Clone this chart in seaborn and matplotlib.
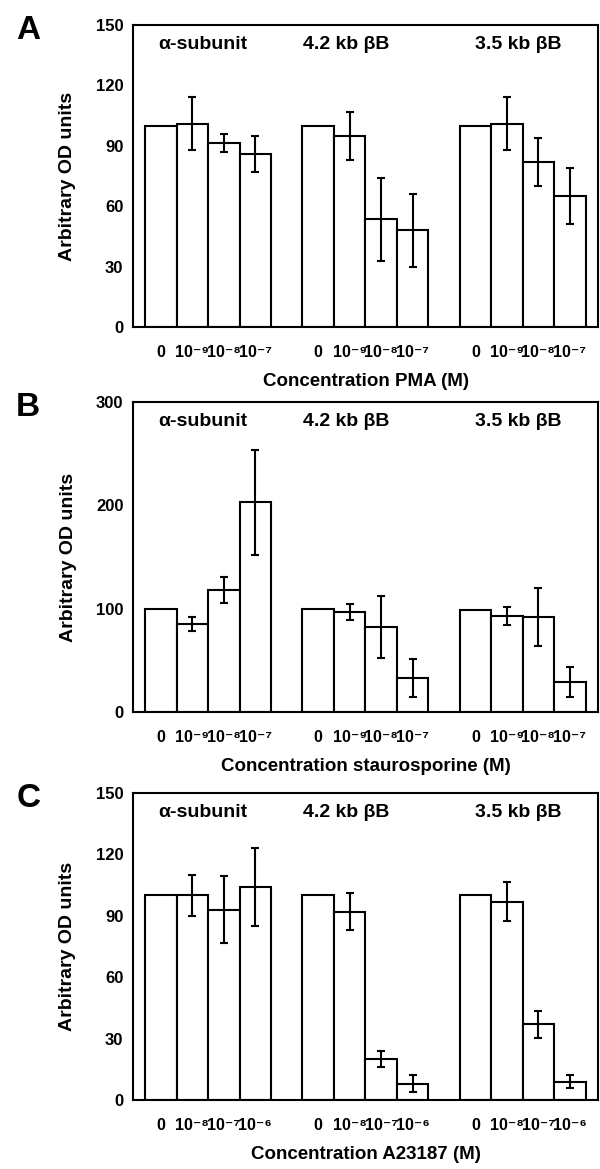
import numpy as np
import pandas as pd
import matplotlib
matplotlib.use("Agg")
import matplotlib.pyplot as plt
import seaborn as sns

# Bar data (arbitrary OD units, mean and error half-width)
groups = ["α-subunit", "4.2 kb βB", "3.5 kb βB"]

pma_vals = [100, 101, 91.5, 86, 100, 95, 53.5, 48, 100, 101, 82, 65]
pma_err = [0, 13, 4.5, 9, 0, 12, 20.5, 18, 0, 13, 12, 14]

stauro_vals = [100, 85, 118, 203, 100, 97, 82, 33, 99, 93, 92, 29]
stauro_err = [0, 7, 12.5, 51, 0, 8, 30, 18, 0, 8.5, 28, 14.5]

a23_vals = [100, 100, 93, 104, 100, 92, 20, 8, 100, 97, 37, 9]
a23_err = [0, 10, 16.5, 19, 0, 9, 4, 4, 0, 9.5, 6.5, 3]

pma_ticks = ["0", "10⁻⁹", "10⁻⁸", "10⁻⁷"]
stauro_ticks = ["0", "10⁻⁹", "10⁻⁸", "10⁻⁷"]
a23_ticks = ["0", "10⁻⁸", "10⁻⁷", "10⁻⁶"]

# bar positions: 4 bars per group, one empty slot between groups
positions = [0, 1, 2, 3, 5, 6, 7, 8, 10, 11, 12, 13]

sns.set_style("white")
plt.rcParams['font.family'] = ['Liberation Sans', 'DejaVu Sans']
plt.rcParams['font.weight'] = 'bold'
for k in ['text.color', 'axes.labelcolor', 'xtick.color', 'ytick.color']:
    plt.rcParams[k] = 'black'

fig = plt.figure(figsize=(6, 11.69), dpi=100)

panels = [
    ("A", pma_vals, pma_err, pma_ticks, "Concentration PMA (M)", 150, 30,
     [0.222, 0.7203, 0.775, 0.2583]),
    ("B", stauro_vals, stauro_err, stauro_ticks, "Concentration staurosporine (M)", 300, 100,
     [0.222, 0.3909, 0.775, 0.2652]),
    ("C", a23_vals, a23_err, a23_ticks, "Concentration A23187 (M)", 150, 30,
     [0.222, 0.0590, 0.775, 0.2626]),
]

for letter, vals, errs, ticks, xlabel, ymax, ystep, rect in panels:
    ax = fig.add_axes(rect)
    df = pd.DataFrame({'pos': positions, 'value': vals})
    sns.barplot(data=df, x='pos', y='value', native_scale=True, width=1,
                color='white', edgecolor='black', linewidth=1.5,
                errorbar=None, ax=ax)
    # error bars (controls have none)
    for p, v, e in zip(positions, vals, errs):
        if e > 0:
            ax.errorbar(p, v, yerr=e, color='black', capsize=3,
                        elinewidth=1.5, capthick=1.5)

    ax.set_xlim(-0.88, 13.9)
    ax.set_ylim(0, ymax)
    ax.set_yticks(np.arange(0, ymax + 1, ystep))
    ax.set_xticks(positions)
    ax.set_xticklabels(ticks * 3)
    ax.tick_params(axis='y', length=0, labelsize=12, pad=7)
    ax.tick_params(axis='x', length=0, labelsize=11.5, pad=13)
    for lab in ax.get_xticklabels() + ax.get_yticklabels():
        lab.set_fontweight('bold')

    for s in ax.spines.values():
        s.set_visible(True)
        s.set_color('black')
        s.set_linewidth(1.5)

    ax.set_xlabel(xlabel, fontsize=13.5, fontweight='bold', labelpad=9)
    ax.set_ylabel("Arbitrary OD units", fontsize=14, fontweight='bold', labelpad=14)

    for gx, g in zip([1.32, 5.9, 11.35], groups):
        ax.text(gx, 0.937, g, transform=ax.get_xaxis_transform(),
                ha='center', va='center', fontsize=14, fontweight='bold')

    fig.text(0.047, rect[1] + rect[3] - 0.005, letter, fontsize=24,
             fontweight='bold', ha='center', va='center')

fig.savefig("out.png", dpi=100)
